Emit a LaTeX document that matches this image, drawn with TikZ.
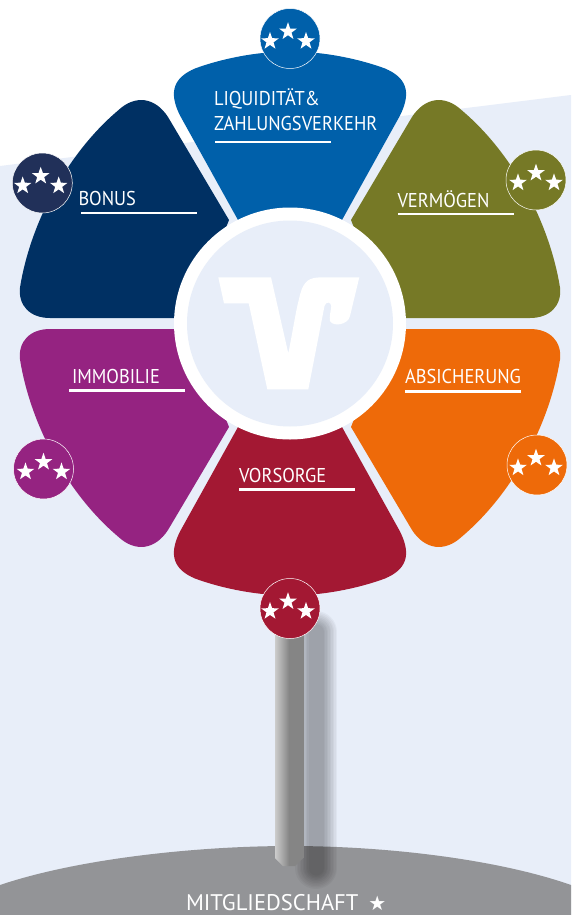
\documentclass[tikz,border=0pt]{standalone}
\usepackage{fontspec}
\setmainfont{PT Sans}
\newfontfamily\labfont{PT Sans}[FakeStretch=0.92]
\newfontfamily\symfont{DejaVu Sans}
\usetikzlibrary{shapes.geometric}
\definecolor{bgblue}{HTML}{E8EEF9}
\definecolor{cblue}{HTML}{0060AA}
\definecolor{cnavy}{HTML}{003063}
\definecolor{cnavyb}{HTML}{213059}
\definecolor{colive}{HTML}{767926}
\definecolor{corange}{HTML}{EE6A09}
\definecolor{cpurple}{HTML}{952381}
\definecolor{ccrim}{HTML}{A31833}
\definecolor{cground}{HTML}{939497}
\tikzset{
  lab/.style={text=white,font=\labfont\fontsize{20}{24}\selectfont,anchor=base west,inner sep=0pt,outer sep=0pt},
  ruleline/.style={draw=white,line width=2.2pt},
  badge/.style={circle,draw=white,line width=0.5pt,minimum size=60pt,inner sep=0pt},
  tinystar/.style={star,star points=5,star point ratio=2.5,fill=white,inner sep=0pt,minimum size=18.5pt},
}
% side petal, relative to the flower centre
\newcommand{\sidepetal}{(-61,-103.5) -- (-122,-206.5) .. controls (-135,-226.5) and (-155,-229) .. (-172,-213)
  .. controls (-225,-168) and (-260,-98) .. (-270,-36) .. controls (-272,-18) and (-260,-5.5) .. (-240,-5.5) -- (-100,-5.5) -- cycle}
\newcommand{\toppetal}{(-52,-103.5) -- (-110,-208) .. controls (-122,-232) and (-116,-246) .. (-95,-255)
  .. controls (-65,-266) and (-30,-272) .. (0,-272) .. controls (30,-272) and (65,-266) .. (95,-255)
  .. controls (116,-246) and (122,-232) .. (110,-208) -- (52,-103.5) -- cycle}
\newcommand{\mkbadge}[5]{%
  \node[badge,fill=#4] (b#1) at (#2,#3) {};
  \node[tinystar] (b#1a) at ([shift={(#5-18,2.7)}]b#1.center) {};
  \node[tinystar] (b#1b) at ([shift={(#5,-7)}]b#1.center) {};
  \node[tinystar] (b#1c) at ([shift={(#5+18,2.7)}]b#1.center) {};
}
\begin{document}
\begin{tikzpicture}[x=1pt,y=-1pt]
\useasboundingbox (0,0) rectangle (571,915);
\fill[white] (0,0) rectangle (571,915);
\fill[bgblue] (0,166) -- (571,95) -- (571,915) -- (0,915) -- cycle;
% ground
\fill[cground] (0,885) .. controls (80,858) and (200,846) .. (290,846) .. controls (390,846) and (500,860) .. (571,885) -- (571,915) -- (0,915) -- cycle;
% soft stem shadow
\foreach \w in {42,39,36,33,30,27,24,21,18,15}
  \draw[black,opacity=0.034,line cap=round,line width=\w pt] (316,632) -- (316,868);
% stem
\path[left color=black!20,right color=black!48,middle color=black!48] (275,625) -- (303.3,625) -- (303.3,858) -- (295,866) -- (283,866) -- (275,858) -- cycle;
% petals
\begin{scope}[shift={(290,323.5)}]
  \fill[cblue] \toppetal;
  \fill[cnavy] \sidepetal;
  \begin{scope}[xscale=-1] \fill[colive] \sidepetal; \end{scope}
  \begin{scope}[yscale=-1] \fill[cpurple] \sidepetal; \end{scope}
  \begin{scope}[xscale=-1,yscale=-1] \fill[corange] \sidepetal; \end{scope}
  \begin{scope}[yscale=-1] \fill[ccrim] \toppetal; \end{scope}
\end{scope}
% centre
\node[circle,fill=white,minimum size=232pt,inner sep=0pt] (hub) at (290,323.5) {};
\node[circle,fill=bgblue,minimum size=206pt,inner sep=0pt] (hubin) at (290,323.5) {};
\fill[white] (218.3,277.3) -- (271,277.3) -- (288.3,353.3) .. controls (293,330) and (296,310) .. (299,299)
  .. controls (302,285) and (306,278) .. (318,277.5) -- (359.3,277.3) -- (350,316) .. controls (348,325) and (333,327) .. (330,321)
  .. controls (329,316) and (331,311) .. (331.3,306) .. controls (331,302) and (326,301) .. (324.5,306) -- (308.3,389.3) -- (267.3,389.3)
  -- (248.7,303.3) -- (224,303.3) -- cycle;
% labels
\node[lab] (t1a) at (214,106) {LIQUIDITÄT\&};
\node[lab] (t1b) at (214,131) {ZAHLUNGSVERKEHR};
\draw[ruleline] (215,142) -- (331,142);
\node[lab] (t2) at (78.5,205) {BONUS};
\draw[ruleline] (81,213) -- (197,213);
\node[lab] (t3) at (397.5,207) {VERMÖGEN};
\draw[ruleline] (398,214) -- (514,214);
\node[lab] (t4) at (72,383) {IMMOBILIE};
\draw[ruleline] (69,390.5) -- (185,390.5);
\node[lab] (t5) at (405,383) {ABSICHERUNG};
\draw[ruleline] (405,391.5) -- (521,391.5);
\node[lab] (t6) at (239,482) {VORSORGE};
\draw[ruleline] (239,489.5) -- (355,489.5);
\node[lab,font=\rmfamily\fontsize{22.6}{26}\selectfont] (t7) at (186,910.5) {MITGLIEDSCHAFT\hspace{10pt}{\symfont\fontsize{20}{24}\selectfont ★}};
% badges
\mkbadge{top}{290}{38.5}{cblue}{-2}
\mkbadge{nav}{42.3}{183}{cnavyb}{-1.6}
\mkbadge{oli}{536}{180}{colive}{0}
\mkbadge{pur}{43.5}{469}{cpurple}{0}
\mkbadge{ora}{537}{465}{corange}{-1}
\mkbadge{cri}{290}{608.5}{ccrim}{-2}
\end{tikzpicture}
\end{document}
